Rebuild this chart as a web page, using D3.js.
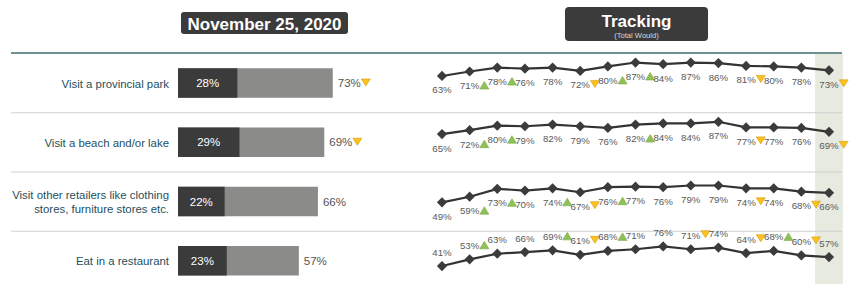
<!DOCTYPE html>
<html>
<head>
<meta charset="utf-8">
<script src="https://cdn.jsdelivr.net/npm/d3@7"></script>
<style>
  body { margin: 0; background: #fff; }
  svg { display: block; font-family: "Liberation Sans", Arial, sans-serif; }
</style>
</head>
<body>
<div id="chart"></div>
<script>
// data
const categories = [
  ["Visit a provincial park"],
  ["Visit a beach and/or lake"],
  ["Visit other retailers like clothing", "stores, furniture stores etc."],
  ["Eat in a restaurant"]
];
const definitelyValues = [28, 29, 22, 23];
const totalValues = [73, 69, 66, 57];
const totalFlags = ["down", "down", "", ""];

const trendValues = [
  [63, 71, 78, 76, 78, 72, 80, 87, 84, 87, 86, 81, 80, 78, 73],
  [65, 72, 80, 79, 82, 79, 76, 82, 84, 84, 87, 77, 77, 76, 69],
  [49, 59, 73, 70, 74, 67, 76, 77, 76, 79, 79, 74, 74, 68, 66],
  [41, 53, 63, 66, 69, 61, 68, 71, 76, 71, 74, 64, 68, 60, 57]
];
const trendFlags = [
  ["", "up", "up", "", "", "down", "up", "up", "", "", "", "down", "", "", "down"],
  ["", "up", "up", "", "", "", "", "up", "", "", "", "down", "", "", "down"],
  ["", "up", "up", "", "up", "down", "up", "", "", "", "", "down", "", "down", ""],
  ["", "up", "", "", "up", "down", "up", "", "", "down", "", "down", "up", "down", ""]
];

const width = 850, height = 284;
const dark = "#3b3b3b";
const green = "#8fc156", yellow = "#fcc21b";

const svg = d3.select("#chart").append("svg")
  .attr("width", width)
  .attr("height", height);

// row bands
const rowScale = d3.scaleBand()
  .domain(d3.range(categories.length))
  .range([53, 290]);
const rowH = rowScale.bandwidth();

// tracking x
const xTrend = d3.scalePoint()
  .domain(d3.range(trendValues[0].length))
  .range([442, 829]);
const step = xTrend.step();

// highlight for the latest wave
svg.append("rect")
  .attr("x", xTrend(trendValues[0].length - 1) - step / 2)
  .attr("y", 54)
  .attr("width", step)
  .attr("height", height - 54)
  .attr("fill", "#e7eadf");

// header boxes
const head1 = svg.append("g");
head1.append("rect")
  .attr("x", 181).attr("y", 12).attr("width", 167).attr("height", 22)
  .attr("rx", 3).attr("fill", dark);
head1.append("text")
  .attr("x", 264.5).attr("y", 30)
  .attr("text-anchor", "middle")
  .attr("fill", "#fff")
  .attr("font-weight", "bold")
  .attr("font-size", 17)
  .text("November 25, 2020");

const head2 = svg.append("g");
head2.append("rect")
  .attr("x", 565).attr("y", 7).attr("width", 143).attr("height", 34)
  .attr("rx", 4).attr("fill", dark);
head2.append("text")
  .attr("x", 636.5).attr("y", 27)
  .attr("text-anchor", "middle")
  .attr("fill", "#fff")
  .attr("font-weight", "bold")
  .attr("font-size", 17)
  .text("Tracking");
head2.append("text")
  .attr("x", 636.5).attr("y", 37.5)
  .attr("text-anchor", "middle")
  .attr("fill", "#d8d8d8")
  .attr("font-size", 7.6)
  .text("(Total Would)");

// header rule and row separators
svg.append("line")
  .attr("x1", 11).attr("x2", 842)
  .attr("y1", 53).attr("y2", 53)
  .attr("stroke", "#6f9191").attr("stroke-width", 2);

svg.selectAll(".sep")
  .data(d3.range(1, categories.length))
  .join("line")
    .attr("class", "sep")
    .attr("x1", 11).attr("x2", 842)
    .attr("y1", i => rowScale(i) + 0.5)
    .attr("y2", i => rowScale(i) + 0.5)
    .attr("stroke", "#cfcfcf").attr("stroke-width", 1);

// triangle helper
const tri = (g, x, baseline, kind) => {
  if (!kind) return;
  const w = 9, h = 7;
  let pts;
  if (kind === "up") {
    pts = [[x, baseline], [x + w, baseline], [x + w / 2, baseline - h - 0.5]];
  } else {
    pts = [[x, baseline - 8], [x + w, baseline - 8], [x + w / 2, baseline - 1]];
  }
  g.append("path")
    .attr("d", d3.line()(pts) + "Z")
    .attr("fill", kind === "up" ? green : yellow)
    .attr("stroke", kind === "up" ? "#79a844" : "#d39a10")
    .attr("stroke-width", 0.6);
};

// bars
const xBar = d3.scaleLinear().domain([0, 100]).range([178, 390]);
const barH = 29.5;

const rows = svg.selectAll(".row")
  .data(categories)
  .join("g")
    .attr("class", "row");

rows.each(function(lines, i) {
  const g = d3.select(this);
  const cy = rowScale(i) + 30;

  // category label
  const lab = g.append("text")
    .attr("text-anchor", "end")
    .attr("fill", "#1e4f5c")
    .attr("font-size", 11.4);
  lines.forEach((ln, k) => {
    lab.append("tspan")
      .attr("x", 169)
      .attr("y", cy + 4.5 + (k - (lines.length - 1) / 2) * 14)
      .text(ln);
  });

  g.append("rect")
    .attr("x", xBar(0)).attr("y", cy - barH / 2)
    .attr("width", xBar(totalValues[i]) - xBar(0))
    .attr("height", barH)
    .attr("fill", "#8b8c89");
  g.append("rect")
    .attr("x", xBar(0)).attr("y", cy - barH / 2)
    .attr("width", xBar(definitelyValues[i]) - xBar(0))
    .attr("height", barH)
    .attr("fill", dark);

  g.append("text")
    .attr("x", (xBar(0) + xBar(definitelyValues[i])) / 2)
    .attr("y", cy + 4)
    .attr("text-anchor", "middle")
    .attr("fill", "#fff")
    .attr("font-size", 11.5)
    .text(definitelyValues[i] + "%");

  const tot = g.append("text")
    .attr("x", xBar(totalValues[i]) + 5)
    .attr("y", cy + 4)
    .attr("fill", "#555")
    .attr("font-size", 11.5)
    .text(totalValues[i] + "%");
  const tw = tot.node().getComputedTextLength();
  tri(g, xBar(totalValues[i]) + 5 + tw + 0.5, cy + 4, totalFlags[i]);

  // tracking line
  const vals = trendValues[i];
  const zero = rowScale(i) + rowH - 1;
  const yTrend = d3.scaleLinear().domain([0, 100]).range([zero, zero - 56]);

  g.append("path")
    .datum(vals)
    .attr("fill", "none")
    .attr("stroke", "#333")
    .attr("stroke-width", 2.2)
    .attr("d", d3.line().x((d, j) => xTrend(j)).y(d => yTrend(d)));

  g.selectAll(".pt")
    .data(vals)
    .join("path")
      .attr("class", "pt")
      .attr("d", d3.symbol(d3.symbolSquare, 52)())
      .attr("transform", (d, j) => `translate(${xTrend(j)},${yTrend(d)}) rotate(45)`)
      .attr("fill", dark);

  const below = i < categories.length - 1;
  vals.forEach((v, j) => {
    const base = yTrend(v) + (below ? 17.5 : -10.5);
    const t = g.append("text")
      .attr("x", xTrend(j))
      .attr("y", base)
      .attr("text-anchor", "middle")
      .attr("fill", "#595959")
      .attr("font-size", 9.7)
      .text(v + "%");
    const w = t.node().getComputedTextLength();
    tri(g, xTrend(j) + w / 2 + 0.5, base, trendFlags[i][j]);
  });
});
</script>
</body>
</html>
